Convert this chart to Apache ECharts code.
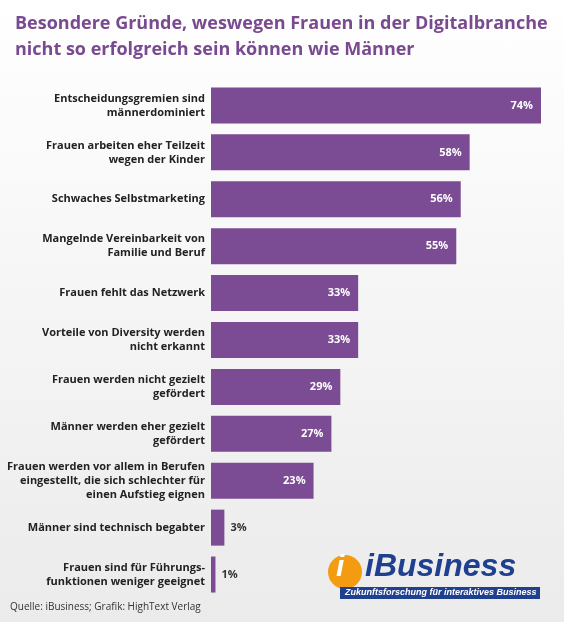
<!DOCTYPE html>
<html><head><meta charset="utf-8">
<script src="https://cdn.jsdelivr.net/npm/echarts@6/dist/echarts.min.js"></script>
<style>html,body{margin:0;padding:0;}#c{width:564px;height:622px;background:linear-gradient(#ffffff,#ebebeb);}</style>
</head><body><div id="c"></div>
<script>
const categories = [
 "Entscheidungsgremien sind\nmännerdominiert",
 "Frauen arbeiten eher Teilzeit\nwegen der Kinder",
 "Schwaches Selbstmarketing",
 "Mangelnde Vereinbarkeit von\nFamilie und Beruf",
 "Frauen fehlt das Netzwerk",
 "Vorteile von Diversity werden\nnicht erkannt",
 "Frauen werden nicht gezielt\ngefördert",
 "Männer werden eher gezielt\ngefördert",
 "Frauen werden vor allem in Berufen\neingestellt, die sich schlechter für\neinen Aufstieg eignen",
 "Männer sind technisch begabter",
 "Frauen sind für Führungs-\nfunktionen weniger geeignet"
];
const values = [74,58,56,55,33,33,29,27,23,3,1];
const chart = echarts.init(document.getElementById('c'));
const data = values.map(v => ({
  value: v,
  label: v < 10 ? {position:'right', color:'#333', distance:6} : {position:'insideRight', color:'#fff', distance:8}
}));
chart.setOption({
  animation:false,
  title:{text:'Besondere Gründe, weswegen Frauen in der Digitalbranche\nnicht so erfolgreich sein können wie Männer',
    left:10, top:6, textStyle:{color:'#7a4a90', fontSize:18, fontWeight:'bold', fontFamily:'Open Sans', lineHeight:26}},
  grid:{left:211, right:23, top:82, bottom:24},
  xAxis:{type:'value', min:0, max:74, show:false},
  yAxis:{type:'category', inverse:true, data:categories,
    axisLine:{show:false}, axisTick:{show:false},
    axisLabel:{color:'#222', fontSize:11, fontWeight:'bold', fontFamily:'Open Sans', lineHeight:14, margin:6, align:'right'}},
  series:[{type:'bar', data:data, barWidth:36, itemStyle:{color:'#7b4b94'},
    label:{show:true, formatter:'{c}%', fontSize:11, fontWeight:'bold', fontFamily:'Open Sans'}}],
  graphic:[
    {type:'text', left:10, top:602, style:{text:'Quelle: iBusiness; Grafik: HighText Verlag', fontSize:10, fill:'#333', fontFamily:'Open Sans'}},
    {type:'circle', shape:{cx:345, cy:572, r:17}, style:{fill:'#f39c12'}},
    {type:'text', left:336, top:553, style:{text:'i', fontSize:30, fontWeight:'bold', fontStyle:'italic', fill:'#fff', fontFamily:'Liberation Sans'}},
    {type:'text', left:365, top:551, style:{text:'iBusiness', fontSize:32, fontWeight:'bold', fontStyle:'italic', fill:'#1f3f8f', fontFamily:'Liberation Sans'}},
    {type:'rect', shape:{x:340, y:587, width:200, height:12}, style:{fill:'#1f3f8f'}},
    {type:'text', left:345, top:588, style:{text:'Zukunftsforschung für interaktives Business', fontSize:9, fontStyle:'italic', fontWeight:'bold', fill:'#fff', fontFamily:'Liberation Sans'}}
  ]
});
</script></body></html>
